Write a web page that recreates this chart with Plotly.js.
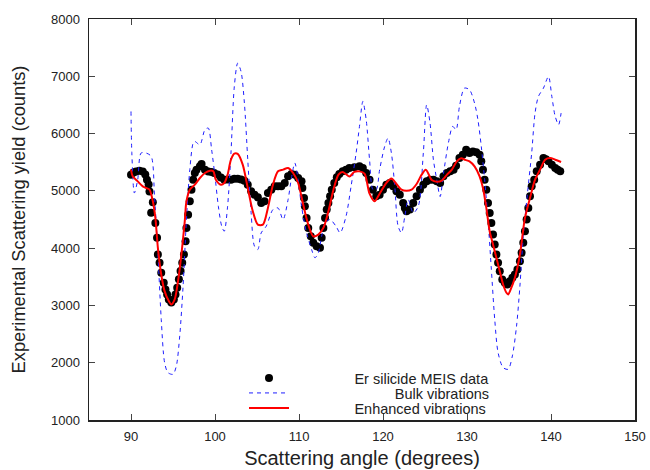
<!DOCTYPE html>
<html>
<head>
<meta charset="utf-8">
<script src="https://cdn.plot.ly/plotly-3.0.1.min.js"></script>
<style>html,body{margin:0;padding:0;background:#fff;}#chart{width:650px;height:470px;}</style>
</head>
<body>
<div id="chart"></div>
<script>
// Experimental data (Er silicide MEIS)
const expAngle = [90.0,90.3,90.6,91.0,91.4,91.7,91.9,92.1,92.2,92.4,92.6,92.9,93.1,93.2,93.4,93.6,93.9,94.1,94.3,94.5,94.8,95.1,95.3,95.5,95.7,95.9,96.1,96.3,96.5,96.6,96.8,97.0,97.2,97.4,97.6,97.8,98.2,98.4,98.8,99.2,99.6,99.9,100.3,100.7,101.1,101.5,101.9,102.3,102.7,103.1,103.5,103.9,104.3,104.7,105.1,105.5,105.9,106.3,106.7,107.1,107.5,107.9,108.3,108.7,109.1,109.5,109.9,110.3,110.4,110.6,110.7,110.9,111.1,111.4,111.7,112.1,112.5,112.7,112.9,113.1,113.3,113.5,113.7,113.9,114.2,114.5,114.8,115.2,115.6,116.0,116.6,117.2,117.6,118.0,118.4,118.8,119.2,119.6,120.0,120.4,120.8,121.2,121.6,122.0,122.4,122.6,122.8,123.2,123.6,124.0,124.4,124.8,125.2,125.6,126.0,126.4,126.8,127.2,127.6,128.0,128.4,128.7,129.1,129.5,129.9,130.3,130.7,131.1,131.5,131.7,131.9,132.1,132.3,132.5,132.7,132.9,133.1,133.3,133.5,133.7,133.9,134.2,134.5,134.8,135.1,135.4,135.7,136.0,136.3,136.5,136.7,136.9,137.1,137.3,137.5,137.7,138.0,138.3,138.7,139.1,139.4,139.7,140.1,140.5,140.8,141.1];
const expCounts = [5280,5320,5340,5350,5340,5285,5195,5110,4990,4620,4800,4440,4180,3890,3745,3570,3395,3280,3190,3105,3050,3105,3190,3310,3455,3600,3745,3890,4120,4350,4585,4820,5020,5195,5310,5370,5430,5470,5370,5340,5330,5310,5285,5235,5195,5200,5195,5210,5213,5200,5178,5108,4992,4934,4888,4789,4818,4963,5021,5079,5079,5079,5137,5254,5294,5283,5225,5166,5050,4876,4731,4528,4353,4208,4092,4034,4005,4180,4353,4528,4673,4789,4905,5021,5137,5236,5294,5341,5370,5399,5410,5428,5399,5312,5195,5021,4905,4934,5021,5108,5137,5079,4992,4934,4789,4702,4644,4673,4789,4905,5021,5108,5166,5195,5195,5166,5137,5254,5312,5341,5370,5440,5573,5631,5718,5660,5689,5672,5631,5515,5370,5195,5021,4789,4615,4440,4237,4063,3889,3744,3598,3453,3395,3366,3424,3482,3540,3627,3773,3918,4092,4295,4499,4702,4905,5079,5195,5341,5457,5573,5550,5515,5457,5399,5370,5341];

// Bulk vibrations simulation
const bulkAngle = [90.0,90.1,90.4,90.8,91.2,91.8,92.4,92.8,93.2,93.6,94.0,94.4,95.0,95.4,95.8,96.2,96.6,97.0,97.4,97.6,98.2,98.8,99.2,99.6,100.0,100.4,100.8,101.1,101.5,101.9,102.3,102.7,103.1,103.5,103.9,104.3,104.7,105.1,105.5,106.1,106.9,107.5,108.1,108.7,109.1,109.5,109.9,110.3,110.9,111.5,111.9,112.3,112.7,113.1,113.7,114.4,114.9,115.6,116.2,116.8,117.2,117.6,118.0,118.4,118.8,119.2,119.6,120.2,120.6,121.0,121.4,121.8,122.2,122.6,123.0,123.6,124.2,124.8,125.2,125.6,126.0,126.4,126.8,127.2,127.8,128.3,128.7,129.1,129.7,130.3,130.9,131.3,131.7,132.1,132.5,132.9,133.3,133.7,134.3,134.9,135.4,135.9,136.3,136.7,137.2,137.7,138.1,138.5,139.1,139.7,140.1,140.5,140.9,141.2];
const bulkCounts = [6386,5660,4963,5196,5660,5660,5602,4905,3918,2757,2002,1827,1798,1944,2466,3338,4499,5370,5834,5863,5805,6067,6096,5718,5254,4731,4383,4296,4731,5660,6822,7228,7083,6531,5544,4615,4034,3976,4267,4383,4673,4702,4499,4847,5225,5486,5196,4731,4267,3976,3831,3918,4208,4441,4499,4383,4267,4557,5080,5660,6125,6560,6241,5544,5022,5022,5370,5776,5921,5660,5080,4383,4267,4557,4847,4615,4731,5660,6502,6183,5544,5196,4900,5300,5850,6125,6067,6473,6793,6764,6531,6241,5776,5196,4499,3628,2757,2176,1915,1886,2118,2641,3338,4208,4963,5660,6357,6647,6793,6996,6647,6299,6154,6357];

// Enhanced vibrations simulation
const enhAngle = [90.0,90.2,90.8,91.4,91.8,92.2,92.6,92.9,93.2,93.6,94.0,94.5,94.8,95.2,95.6,96.0,96.4,96.6,97.0,97.6,98.2,98.8,99.4,99.8,100.1,100.7,101.1,101.5,101.9,102.3,102.7,103.3,103.9,104.5,105.1,105.7,106.3,106.9,107.5,108.1,108.7,109.3,109.9,110.5,111.1,111.7,112.3,112.9,113.5,114.1,114.7,115.2,115.6,116.0,116.6,117.2,117.8,118.4,119.0,119.6,120.4,121.0,121.6,122.2,122.8,123.4,124.0,124.6,125.1,125.8,126.4,127.0,127.6,128.2,128.8,129.3,129.8,130.3,130.9,131.5,131.9,132.3,132.7,133.1,133.5,133.9,134.3,134.7,134.9,135.2,135.7,136.3,136.9,137.5,138.1,138.7,139.3,139.9,140.5,141.2];
const enhCounts = [5370,5254,5166,5079,5050,5021,4818,4528,4005,3540,3250,3076,3018,3105,3424,3889,4469,4818,5021,5108,5225,5312,5352,5341,5195,5108,5137,5283,5544,5650,5645,5457,5050,4644,4411,4411,4702,5108,5341,5370,5399,5312,5137,4760,4411,4208,4237,4353,4644,5021,5283,5330,5290,5250,5330,5340,5300,4950,4818,4950,5140,5215,5120,5020,5000,5021,5120,5283,5370,5190,5160,5180,5280,5370,5520,5570,5540,5515,5428,5254,5050,4702,4295,4063,3831,3598,3366,3221,3192,3279,3482,3889,4528,4876,5195,5370,5544,5573,5544,5503];

const seriesNames = ['Er silicide MEIS data', 'Bulk vibrations', 'Enhanced vibrations'];
const xTicks = [90,100,110,120,130,140,150];
const yTicks = [1000,2000,3000,4000,5000,6000,7000,8000];

const FONT = 'Liberation Sans, Arial, Helvetica, sans-serif';
const LEG_SIZE = 14.5;

// gnuplot-style key: symbols on the left, labels right-aligned (padded with no-break spaces)
const KEY_LEFT = 244, KEY_TEXT_END = 486;
const cv = document.createElement('canvas').getContext('2d');
cv.font = LEG_SIZE + 'px "Liberation Sans"';
const nbspW = cv.measureText('\u00a0').width || 4;
const textSpace = KEY_TEXT_END - (KEY_LEFT + 49);
const labels = seriesNames.map(n => '\u00a0'.repeat(Math.max(0, Math.round((textSpace - cv.measureText(n).width) / nbspW))) + n);

const traces = [
  {x: expAngle, y: expCounts, name: labels[0], type: 'scatter', mode: 'markers',
   marker: {color: '#000000', size: 8}, legend: 'legend'},
  {x: bulkAngle, y: bulkCounts, name: labels[1], type: 'scatter', mode: 'lines',
   line: {color: '#1f1fff', width: 1, dash: '4px,4px', shape: 'spline', smoothing: 0.8}, legend: 'legend2'},
  {x: enhAngle, y: enhCounts, name: labels[2], type: 'scatter', mode: 'lines',
   line: {color: '#ff0000', width: 2, shape: 'spline', smoothing: 0.8}, legend: 'legend3'}
];

const axisCommon = {
  showgrid: false, zeroline: false, showline: true, mirror: 'ticks',
  linecolor: '#222', linewidth: 1.5, ticks: 'inside', ticklen: 6, tickwidth: 1,
  tickcolor: '#444', tickfont: {family: FONT, size: 13, color: '#222'}
};

const legBase = {x: (KEY_LEFT - 89) / 546, xanchor: 'left', yanchor: 'middle', bgcolor: 'rgba(0,0,0,0)',
                 itemwidth: 40, font: {family: FONT, size: LEG_SIZE, color: '#222'}};

const layout = {
  width: 650, height: 470,
  margin: {l: 89, r: 15, t: 19, b: 50},
  paper_bgcolor: '#fff', plot_bgcolor: '#fff',
  showlegend: true,
  legend: Object.assign({}, legBase, {y: (420 - 378) / 401}),
  legend2: Object.assign({}, legBase, {y: (420 - 393) / 401}),
  legend3: Object.assign({}, legBase, {y: (420 - 408) / 401}),
  xaxis: Object.assign({}, axisCommon, {range: [85,150], tickvals: xTicks, ticklabelstandoff: 4,
    title: {text: 'Scattering angle (degrees)', font: {family: FONT, size: 20, color: '#222'}, standoff: 8}}),
  yaxis: Object.assign({}, axisCommon, {range: [1000,8000], tickvals: yTicks, ticklabelstandoff: 5,
    title: {text: 'Experimental Scattering yield (counts)', font: {family: FONT, size: 18.3, color: '#222'}, standoff: 20}}),
  font: {family: FONT}
};

Plotly.newPlot('chart', traces, layout, {displayModeBar: false, staticPlot: true});
</script>
</body>
</html>
